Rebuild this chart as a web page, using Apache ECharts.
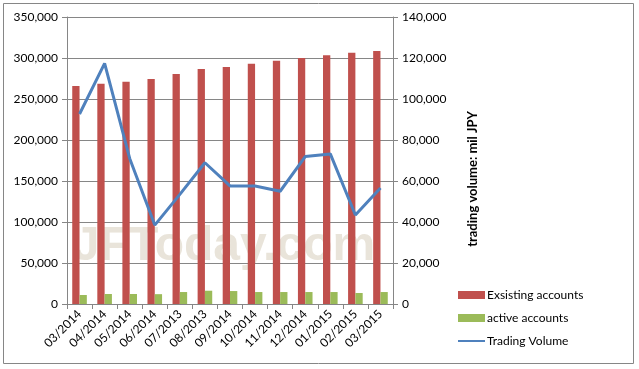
<!DOCTYPE html>
<html><head><meta charset="utf-8">
<script src="https://cdn.jsdelivr.net/npm/echarts@6/dist/echarts.min.js"></script>
<style>html,body{margin:0;padding:0;background:#fff}#c{width:639px;height:369px}</style>
</head><body><div id="c"></div>
<script>
const categories = ['03/2014','04/2014','05/2014','06/2014','07/2013','08/2013','09/2014','10/2014','11/2014','12/2014','01/2015','02/2015','03/2015'];
const existingAccounts = [266000,268500,271000,274500,280500,286500,289000,293000,296500,300000,303500,306500,308500];
const activeAccounts = [11000,12200,12200,12000,14600,16200,15800,14600,14600,14600,14600,13400,14600];
const tradingVolume = [92700,117400,71000,38500,53500,68900,57600,57600,55000,71900,73200,43400,56600];
const leftTicks = {min:0, max:350000, interval:50000};
const rightTicks = {min:0, max:140000, interval:20000};

const font = 'Lato, "Open Sans", sans-serif';
const chart = echarts.init(document.getElementById('c'));
const fmt = v => v.toLocaleString('en-US');
chart.setOption({
  animation:false,
  textStyle:{fontFamily:font},
  grid:{left:67,right:246,top:17,bottom:65},
  legend:{
    orient:'vertical', left:452, top:284, itemGap:11, itemWidth:27, itemHeight:8,
    textStyle:{fontSize:12,color:'#000',fontFamily:font,padding:[0,0,0,-3]},
    data:[{name:'Exsisting accounts',icon:'rect'},{name:'active accounts',icon:'rect'},{name:'Trading Volume',itemStyle:{opacity:0}}]
  },
  xAxis:{
    type:'category', data:categories,
    axisLine:{lineStyle:{color:'#868686'}},
    axisTick:{show:true,alignWithLabel:false,length:5,lineStyle:{color:'#868686'}},
    axisLabel:{rotate:45,fontSize:12,color:'#000',margin:8,interval:0}
  },
  yAxis:[{
    type:'value', min:leftTicks.min, max:leftTicks.max, interval:leftTicks.interval,
    axisLine:{show:true,lineStyle:{color:'#868686'}},
    axisTick:{show:true,length:5,lineStyle:{color:'#868686'}},
    splitLine:{lineStyle:{color:'#868686'}},
    axisLabel:{fontSize:12,color:'#000',formatter:fmt,margin:9}
  },{
    type:'value', min:rightTicks.min, max:rightTicks.max, interval:rightTicks.interval,
    axisLine:{show:true,lineStyle:{color:'#868686'}},
    axisTick:{show:true,length:5,lineStyle:{color:'#868686'}},
    splitLine:{show:false},
    axisLabel:{fontSize:12,color:'#000',formatter:fmt,margin:9}
  }],
  series:[
    {name:'Exsisting accounts',type:'bar',data:existingAccounts,barWidth:7.3,barGap:'0%',itemStyle:{color:'#C0504D'},z:3},
    {name:'active accounts',type:'bar',data:activeAccounts,barWidth:7.3,itemStyle:{color:'#9BBB59'},z:3},
    {name:'Trading Volume',type:'line',yAxisIndex:1,data:tradingVolume,symbol:'none',lineStyle:{color:'#4F81BD',width:3},itemStyle:{color:'#4F81BD'},z:4}
  ],
  graphic:[
    {type:'rect',shape:{x:3.5,y:3.5,width:630,height:360},style:{fill:'none',stroke:'#868686',lineWidth:1},silent:true,z:-20},
    {type:'text',x:473,y:179,rotation:Math.PI/2,style:{text:'trading volume: mil JPY',font:'bold 13px '+font,fill:'#000',textAlign:'center',textVerticalAlign:'middle'},z:10},
    {type:'text',x:224,y:247,style:{text:'JFToday.com',font:'bold 48px "Liberation Sans", Arial, sans-serif',fill:'#E9E4DA',textAlign:'center',textVerticalAlign:'middle'},z:-10,silent:true}
  ]
});
</script></body></html>
